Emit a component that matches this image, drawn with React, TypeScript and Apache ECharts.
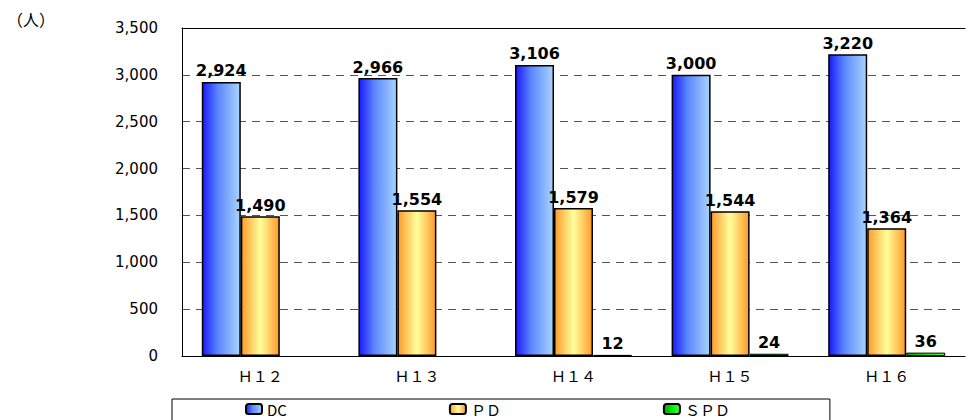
import React, { useEffect, useRef } from "react";
import * as echarts from "echarts";

const categories = ["Ｈ１２", "Ｈ１３", "Ｈ１４", "Ｈ１５", "Ｈ１６"];
const dcValues = [2924, 2966, 3106, 3000, 3220];
const pdValues = [1490, 1554, 1579, 1544, 1364];
const spdValues: (number | null)[] = [null, null, 12, 24, 36];
const seriesNames = ["DC", "ＰＤ", "ＳＰＤ"];
const unitLabel = "（人）";

const fmt = (v: number) => v.toLocaleString("en-US");

export default function App() {
  const ref = useRef<HTMLDivElement>(null);
  useEffect(() => {
    if (!ref.current) return;
    const chart = echarts.init(ref.current, null, { renderer: "svg" });
    const lbl = {
      show: true,
      position: "top",
      distance: 3,
      color: "#000",
      fontFamily: "DejaVu Sans",
      fontWeight: "bold",
      fontSize: 16,
      formatter: (p: any) => fmt(p.value),
    };
    const grad = (stops: [number, string][]) =>
      new echarts.graphic.LinearGradient(0, 0, 1, 0, stops.map(([o, c]) => ({ offset: o, color: c })));
    chart.setOption({
      animation: false,
      textStyle: { fontFamily: "DejaVu Sans" },
      title: {
        text: unitLabel,
        left: 2,
        top: 6,
        textStyle: { fontSize: 16, fontWeight: "normal", color: "#000", fontFamily: "Noto Sans CJK JP" },
      },
      grid: { left: 182, top: 28, right: 1, bottom: 64, containLabel: false },
      legend: {
        data: seriesNames,
        left: 172,
        top: 399,
        orient: "horizontal",
        itemWidth: 16,
        itemHeight: 10,
        itemGap: 162,
        padding: [2, 100, 8, 73],
        borderColor: "#000",
        borderWidth: 1,
        borderRadius: 0,
        textStyle: { fontSize: 15, lineHeight: 16, color: "#000", fontFamily: "Noto Sans CJK JP" },
      },
      xAxis: [
        {
          type: "category",
          data: categories,
          axisLine: { show: true, lineStyle: { color: "#000", width: 1 } },
          axisTick: { show: false },
          axisLabel: { color: "#000", fontSize: 15, margin: 12, fontFamily: "Noto Sans CJK JP" },
        },
        {
          type: "category",
          position: "top",
          data: categories,
          axisLine: { show: true, onZero: false, lineStyle: { color: "#000", width: 1 } },
          axisTick: { show: false },
          axisLabel: { show: false },
        },
      ],
      yAxis: {
        type: "value",
        min: 0,
        max: 3500,
        interval: 500,
        axisLine: { show: true, lineStyle: { color: "#000", width: 1 } },
        axisTick: { show: false },
        axisLabel: {
          color: "#000",
          fontSize: 15,
          margin: 24,
          formatter: (v: number) => fmt(v),
        },
        splitLine: { show: true, lineStyle: { color: "#555", type: [8, 6], width: 1 } },
      },
      series: [
        {
          name: seriesNames[0],
          type: "bar",
          data: dcValues,
          barWidth: 39,
          barGap: "0%",
          label: lbl,
          itemStyle: {
            color: grad([
              [0, "#1a1aff"],
              [0.4, "#5a85ff"],
              [1, "#a8d4ff"],
            ]),
            borderColor: "#000",
            borderWidth: 1.5,
          },
        },
        {
          name: seriesNames[1],
          type: "bar",
          data: pdValues,
          barWidth: 39,
          barGap: "0%",
          label: lbl,
          itemStyle: {
            color: grad([
              [0, "#ff9a2a"],
              [0.5, "#ffff9c"],
              [1, "#ff9a2a"],
            ]),
            borderColor: "#000",
            borderWidth: 1.5,
          },
        },
        {
          name: seriesNames[2],
          type: "bar",
          data: spdValues,
          barWidth: 39,
          barGap: "0%",
          label: lbl,
          itemStyle: {
            color: grad([
              [0, "#00a000"],
              [0.5, "#00ee00"],
              [1, "#44ff44"],
            ]),
            borderColor: "#000",
            borderWidth: 1,
          },
        },
      ],
    });
    return () => chart.dispose();
  }, []);
  return <div ref={ref} style={{ width: 966, height: 420, position: "absolute", left: 0, top: 0 }} />;
}
